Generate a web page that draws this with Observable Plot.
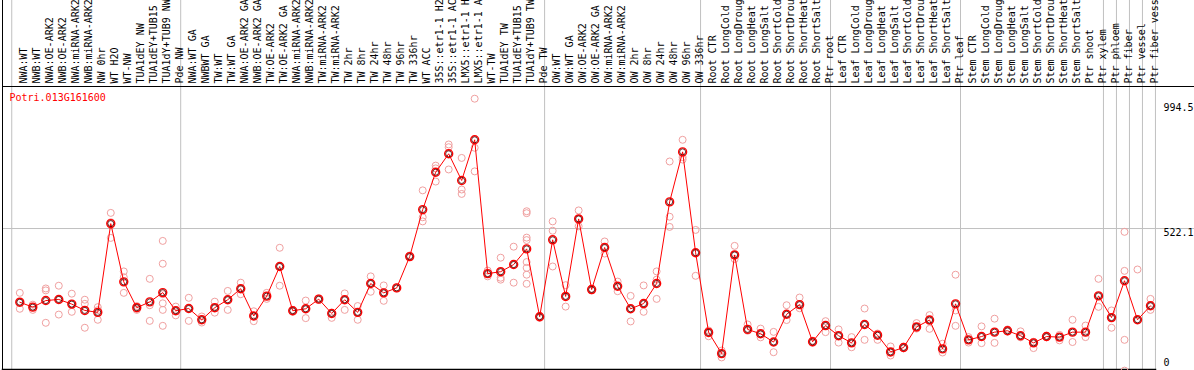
<!DOCTYPE html>
<html>
<head>
<meta charset="utf-8">
<script src="https://cdn.jsdelivr.net/npm/d3@7"></script>
<script src="https://cdn.jsdelivr.net/npm/@observablehq/plot@0.6"></script>
<style>
  html, body { margin: 0; padding: 0; background: white; }
</style>
</head>
<body>
<div id="chart"></div>
<script>
const geneName = "Potri.013G161600";

const categories = [
  "NWA:WT", "NWB:WT", "NWA:OE-ARK2", "NWB:OE-ARK2", "NWA:miRNA-ARK2", "NWB:miRNA-ARK2",
  "NW 0hr", "WT H2O", "WT-NW", "TUA1dEY NW", "TUA1dEY+TUB15", "TUA1dY+TUB9 NW", "Pde NW",
  "NWA:WT GA", "NWBWT GA", "TW:WT", "TW:WT GA", "NWA:OE-ARK2 GA", "NWB:OE-ARK2 GA",
  "TW:OE-ARK2", "TW:OE-ARK2 GA", "NWA:miRNA-ARK2", "NWB:miRNA-ARK2", "TW:miRNA-ARK2",
  "TW:miRNA-ARK2", "TW 2hr", "TW 8hr", "TW 24hr", "TW 48hr", "TW 96hr", "TW 336hr",
  "WT ACC", "35S::etr1-1 H2", "35S::etr1-1 AC", "LMX5::etr1-1 H", "LMX5::etr1-1 A",
  "WT-TW", "TUA1dEY TW", "TUA1dEY+TUB15", "TUA1dY+TUB9 TW", "Pde TW",
  "OW:WT", "OW:WT GA", "OW:OE-ARK2", "OW:OE-ARK2 GA", "OW:miRNA-ARK2", "OW:miRNA-ARK2",
  "OW 2hr", "OW 8hr", "OW 24hr", "OW 48hr", "OW 96hr", "OW 336hr",
  "Root CTR", "Root LongCold", "Root LongDroug", "Root LongHeat", "Root LongSalt",
  "Root ShortCold", "Root ShortDrou", "Root ShortHeat", "Root ShortSalt", "Ptr root",
  "Leaf CTR", "Leaf LongCold", "Leaf LongDroug", "Leaf LongHeat", "Leaf LongSalt",
  "Leaf ShortCold", "Leaf ShortDrou", "Leaf ShortHeat", "Leaf ShortSalt", "Ptr leaf",
  "Stem CTR", "Stem LongCold", "Stem LongDroug", "Stem LongHeat", "Stem LongSalt",
  "Stem ShortCold", "Stem ShortDrou", "Stem ShortHeat", "Stem ShortSalt", "Ptr shoot",
  "Ptr xylem", "Ptr phloem", "Ptr fiber", "Ptr vessel", "Ptr fiber vess"
];

// number of categories in each separated group (left to right)
const groupSizes = [13, 28, 12, 10, 10, 11, 1, 1, 1, 1];

const means = [
  254, 236, 260, 264, 247, 224, 217, 540, 328, 234, 255, 289, 223,
  231, 190, 234, 263, 303, 204, 276, 384, 223, 230, 265, 213, 263, 217, 322, 288, 306,
  420, 591, 727, 794, 697, 845, 358, 365, 391, 448, 201,
  481, 275, 557, 300, 453, 312, 230, 249, 322, 619, 801, 434,
  144, 67, 426, 155, 139, 109, 210, 245, 110, 169,
  132, 106, 173, 134, 73, 89, 164, 189, 84, 248,
  117, 129, 145, 150, 132, 106, 129, 127, 145, 145, 277,
  198, 332, 190, 241
];

const replicates = [
  [288, 230, 254], [245, 226, 236], [304, 297, 179], [314, 209, 264], [285, 219, 247],
  [263, 248, 161], [236, 190, 225], [579, 545, 488], [366, 345, 288], [234, 226, 240],
  [339, 243, 186], [477, 394, 250, 226, 168, 283], [238, 206, 225],
  [270, 186, 231], [202, 180, 190], [256, 216, 234], [295, 226, 263], [325, 283, 303],
  [221, 185, 204], [288, 266, 276], [452, 314, 384], [226, 219, 223], [260, 196, 230],
  [265, 268, 262], [216, 197, 213], [286, 226, 263], [240, 190, 217], [348, 292, 322],
  [315, 259, 288], [306, 308, 304], [420, 424, 418], [661, 563, 548], [751, 741, 693],
  [828, 818, 737], [779, 664, 648], [994.5, 816, 730], [369, 348, 358], [416, 343, 336],
  [456, 325, 391], [585, 578, 489, 480, 400, 379, 354, 321], [204, 197, 201],
  [548, 514, 384], [316, 238, 275], [588, 530, 557], [300, 303, 297], [475, 431, 453],
  [329, 294, 312], [277, 184, 230], [315, 219, 249], [366, 336, 266], [766, 565, 528],
  [845, 782, 773], [517, 350, 434],
  [151, 130, 144], [78, 53, 67], [459, 411, 426], [173, 150, 155], [158, 126, 139],
  [146, 72, 109], [243, 189, 210], [271, 232, 245], [110, 114, 106], [185, 145, 169],
  [155, 107, 132], [127, 90, 106], [231, 117, 173], [140, 117, 134], [93, 60, 73],
  [89, 92, 86], [178, 158, 164], [207, 157, 189], [103, 71, 84], [354, 224, 168],
  [127, 107, 117], [166, 105, 129], [194, 106, 145], [150, 155, 147], [148, 126, 132],
  [110, 87, 106], [129, 126, 132], [127, 115, 135], [190, 109, 145], [169, 127, 145],
  [339, 237, 277], [224, 161, 198], [510, 368, 117, 5], [373, 190], [266, 226, 241]
];

const yTicks = [0, 522.1, 994.5];
const yMax = 994.5;

// derived tables
const meanData = means.map((v, i) => ({i, v}));
const repData = replicates.flatMap((vals, i) => vals.map(v => ({i, v})));
const separators = [-0.5];
groupSizes.reduce((acc, n) => { acc += n; separators.push(acc - 0.5); return acc; }, 0);

const mono = "DejaVu Sans Mono, monospace";

const chart = Plot.plot({
  width: 1194,
  height: 370,
  marginTop: 86,
  marginBottom: 1,
  marginLeft: 2,
  marginRight: 0,
  style: {background: "white", fontFamily: mono, fontSize: "10px"},
  x: {type: "linear", domain: [0, categories.length - 1], range: [19.3, 1150], axis: null},
  y: {type: "linear", domain: [0, yMax], range: [371.5, 98.2], axis: null},
  marks: [
    Plot.ruleX(separators, {x: d => d - 0.12, stroke: "#c0c0c0", strokeWidth: 1, insetTop: -86, strokeOpacity: 1}),
    Plot.ruleY([yTicks[1]], {stroke: "#c0c0c0", strokeWidth: 1, strokeOpacity: 1}),
    Plot.frame({anchor: "top", stroke: "black", strokeWidth: 1}),
    Plot.frame({anchor: "left", stroke: "black", strokeWidth: 1, insetTop: -86}),
    Plot.frame({anchor: "bottom", stroke: "black", strokeWidth: 1.5, insetRight: 39}),
    Plot.text(categories, {
      x: (d, i) => i, text: d => d, frameAnchor: "top", dy: -3, rotate: -90,
      textAnchor: "start", fontFamily: mono, fontSize: 10, fill: "black"
    }),
    Plot.text([geneName], {
      frameAnchor: "top-left", dx: 7, dy: 7, lineAnchor: "top", textAnchor: "start",
      fill: "red", fontFamily: mono, fontSize: 10
    }),
    Plot.text([yTicks[2]], {
      y: d => d, text: d => String(d), frameAnchor: "right", dx: -31, dy: 5,
      lineAnchor: "top", textAnchor: "start", fill: "black", fontFamily: mono, fontSize: 10
    }),
    Plot.text([yTicks[1]], {
      y: d => d, text: d => String(d), frameAnchor: "right", dx: -31, dy: 0,
      lineAnchor: "top", textAnchor: "start", fill: "black", fontFamily: mono, fontSize: 10
    }),
    Plot.text([yTicks[0]], {
      y: d => d, text: d => String(d), frameAnchor: "right", dx: -31, dy: -6,
      lineAnchor: "bottom", textAnchor: "start", fill: "black", fontFamily: mono, fontSize: 10
    }),
    Plot.dot(repData, {x: "i", y: "v", r: 3.5, stroke: "#f0a0a0", strokeWidth: 1, fill: "none"}),
    Plot.line(meanData, {x: "i", y: "v", stroke: "red", strokeWidth: 1}),
    Plot.dot(meanData, {x: "i", y: "v", r: 4, stroke: "red", strokeWidth: 1.4, fill: "none"}),
    Plot.dot(meanData, {x: "i", y: "v", r: 3, stroke: "#400000", strokeWidth: 0.8, fill: "none"})
  ]
});
document.getElementById("chart").appendChild(chart);
</script>
</body>
</html>
